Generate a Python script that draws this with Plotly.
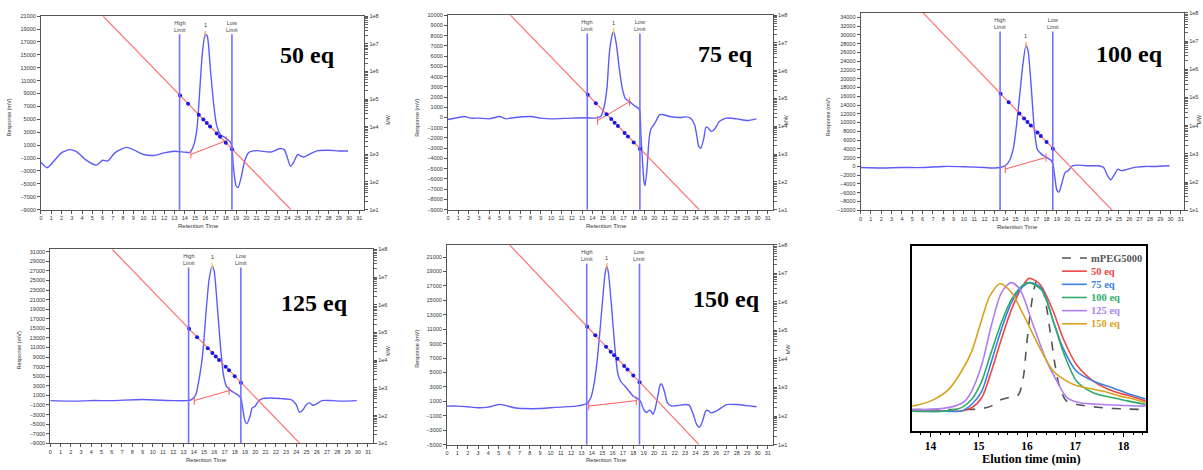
import plotly.graph_objects as go

W, H = 1203, 470

# ---------------- GPC chromatograms: retention time (min) / response (mV) ----------------
t_50 = [0, 0.6, 1, 2, 2.8, 3.5, 4.3, 5.4, 6.0, 6.5, 7.2, 8.3, 9, 10, 11, 12, 13, 14, 14.5, 14.9,
        15.2, 15.5, 15.7, 16.0, 16.2, 16.5, 16.8, 17.1, 17.5, 18.0, 18.5, 18.6, 18.75, 19.0, 19.2,
        19.5, 19.8, 20.2, 21, 22, 22.5, 23.2, 23.7, 24.0, 24.3, 24.6, 25.0, 25.3, 25.6, 26.2, 27,
        28, 29, 29.9]
r_50 = [-1700, -2500, -1950, -200, 300, -50, -1200, -2100, -1350, -1450, -200, 650, 300, -450,
        -600, -200, 50, -80, -120, 1100, 3650, 10300, 14900, 18200, 17900, 12800, 7700, 4150,
        2600, 2100, 1350, 600, -2500, -5300, -5550, -4000, -1700, -200, 150, -50, -50, 450, 300,
        -950, -2300, -1700, -450, -700, -850, -350, 150, 200, 100, 100]

t_75 = [0, 1.0, 1.6, 2.2, 3, 4, 5, 5.6, 6.5, 8, 9, 10, 12, 13.5, 14.3, 14.8, 15.1, 15.4, 15.65,
        15.9, 16.05, 16.3, 16.6, 16.9, 17.2, 17.6, 18.0, 18.5, 18.6, 18.7, 18.85, 19.0, 19.1,
        19.3, 19.5, 19.7, 20.0, 20.5, 20.8, 21.5, 22.5, 23.0, 23.5, 23.9, 24.1, 24.3, 24.5, 24.8,
        25.0, 25.2, 25.5, 25.8, 26.3, 27, 28, 29, 29.9]
r_75 = [-200, 0, 100, -60, -60, -130, 100, -130, 0, 100, -60, -130, -60, -30, -60, 100, 900, 2800,
        6400, 8000, 8400, 7300, 4800, 2800, 1850, 1550, 1200, 850, 600, -1700, -4250, -6300,
        -6650, -4900, -2000, -1050, -650, 250, 300, 100, 0, 60, -60, -700, -1700, -2800, -3000,
        -2000, -950, -1000, -1350, -1200, -400, -60, -130, -300, -130]

t_100 = [0, 2, 4, 6, 8, 10, 12, 13, 13.5, 14, 14.4, 14.8, 15.1, 15.4, 15.7, 16.0, 16.2, 16.5,
         16.8, 17.1, 17.5, 18.0, 18.4, 18.6, 18.8, 19.0, 19.2, 19.5, 19.8, 20.1, 20.5, 21, 22, 23,
         23.5, 23.9, 24.2, 24.6, 24.9, 25.2, 25.6, 26.5, 27.5, 28.5, 29.9]
r_100 = [-250, -350, -250, -250, 0, -60, -250, -350, -250, 150, 1300, 4300, 9600, 16300, 23100,
         27600, 26500, 18600, 8800, 3900, 2800, 2050, 1450, 550, -2450, -5450, -5850, -3600,
         -1350, -950, 150, 300, 150, 150, -200, -2100, -3050, -1700, -600, -950, -800, -200, 0,
         0, 150]

t_125 = [0, 2, 4, 6, 9, 12, 13.3, 13.8, 14.2, 14.6, 14.9, 15.2, 15.5, 15.8, 16.0, 16.3, 16.6,
         16.9, 17.2, 17.6, 18.0, 18.4, 18.6, 18.8, 19.0, 19.2, 19.5, 19.7, 20.0, 20.3, 20.7, 21.5,
         22.5, 23.5, 24.0, 24.3, 24.6, 25.0, 25.3, 25.6, 26.0, 26.5, 27.5, 28.5, 29.9]
r_125 = [-100, -200, -80, -80, 130, -80, -80, 130, 1150, 5300, 10100, 18300, 25200, 28000, 26900,
         19700, 11500, 5300, 2900, 2050, 1500, 950, 450, -1950, -4350, -4900, -3300, -1600,
         -1250, -200, 330, 470, 330, 130, -900, -2500, -2150, -900, -550, -1050, -750, -80, -80,
         -200, -80]

t_150 = [0, 1, 2, 3, 4, 5, 5.5, 6.5, 7.5, 9, 10, 11, 12.5, 13.3, 13.6, 13.9, 14.2, 14.5, 14.8,
         15.1, 15.3, 15.45, 15.6, 15.9, 16.2, 16.5, 16.8, 17.2, 17.6, 18.0, 18.4, 18.7, 19.0,
         19.3, 19.5, 19.7, 19.9, 20.1, 20.4, 20.6, 20.75, 21.0, 21.3, 21.7, 22.3, 23.0, 23.4,
         23.8, 24.1, 24.4, 24.7, 25.0, 25.2, 25.5, 26.0, 26.5, 27, 28, 29, 29.9]
r_150 = [340, 340, 250, 110, 200, 570, 480, 110, 0, 0, 110, 200, 340, 570, 800, 1500, 3300, 6500,
         11100, 16100, 19000, 19700, 18800, 14200, 8800, 4900, 3750, 3100, 2400, 1700, 1400,
         1000, -100, -550, -250, -350, -800, -100, 1950, 3300, 3400, 2400, 800, 350, 430, 570,
         480, -800, -2150, -2600, -1700, -350, -250, -600, -350, 100, 550, 550, 400, 250]

# integration baselines (start / end)
base_t = {"50": [14.6, 18.05], "75": [14.5, 17.6], "100": [14.0, 17.95],
          "125": [14.05, 17.45], "150": [13.7, 18.3]}
base_r = {"50": [-450, 1700], "75": [-300, 1550], "100": [-600, 2050],
          "125": [-80, 2000], "150": [340, 1100]}

# calibration curve (log MW vs retention time) and calibration standards
cal_t = [6.05, 24.35]
cal_mw = [1e8, 1e1]
std_t = [13.55, 14.33, 15.37, 15.82, 16.15, 16.47, 17.12, 17.44, 18.0, 18.61]
std_mw = [135000, 67600, 27000, 18100, 13500, 10200, 5730, 4320, 2630, 1530]

# integration limits
limit_t = [13.5, 18.6]
limit_txt = ["High<br>Limit", "Low<br>Limit"]

# ---------------- overlay: normalized RI traces vs elution time ----------------
ov_peg_t = [13.62, 14.0, 14.6, 15.0, 15.26, 15.47, 15.68, 15.82, 15.92, 15.99, 16.06, 16.13, 16.2,
            16.34, 16.48, 16.58, 16.68, 16.82, 17.03, 17.58, 18.0, 18.46]
ov_peg = [0.115, 0.115, 0.115, 0.118, 0.133, 0.169, 0.183, 0.195, 0.284, 0.462, 0.622, 0.746,
          0.808, 0.746, 0.533, 0.355, 0.231, 0.16, 0.142, 0.124, 0.118, 0.115]
ov_50_t = [13.62, 14.3, 14.64, 14.85, 15.06, 15.26, 15.47, 15.68, 15.89, 16.04, 16.27, 16.55,
           16.75, 17.03, 17.38, 17.79, 18.1, 18.46]
ov_50 = [0.107, 0.107, 0.107, 0.124, 0.178, 0.32, 0.497, 0.657, 0.773, 0.823, 0.79, 0.64, 0.497,
         0.355, 0.267, 0.213, 0.19, 0.16]
ov_75_t = [13.62, 14.3, 14.64, 14.85, 15.06, 15.26, 15.47, 15.68, 15.89, 16.06, 16.3, 16.55,
           16.75, 17.03, 17.38, 17.79, 18.1, 18.46]
ov_75 = [0.105, 0.105, 0.107, 0.142, 0.213, 0.373, 0.55, 0.693, 0.773, 0.80, 0.77, 0.586, 0.444,
         0.32, 0.267, 0.23, 0.2, 0.172]
ov_100_t = [13.62, 14.3, 14.64, 14.85, 15.06, 15.26, 15.47, 15.68, 15.89, 16.03, 16.3, 16.55,
            16.75, 17.03, 17.38, 17.79, 18.1, 18.46]
ov_100 = [0.105, 0.107, 0.125, 0.169, 0.267, 0.426, 0.586, 0.711, 0.781, 0.80, 0.76, 0.586,
          0.426, 0.267, 0.204, 0.178, 0.16, 0.142]
ov_125_t = [13.62, 14.16, 14.5, 14.71, 14.85, 15.06, 15.26, 15.47, 15.67, 15.85, 16.13, 16.41,
            16.62, 16.83, 17.1, 17.58, 18.46]
ov_125 = [0.115, 0.118, 0.133, 0.16, 0.213, 0.355, 0.568, 0.746, 0.80, 0.764, 0.568, 0.373,
          0.267, 0.178, 0.151, 0.142, 0.133]
ov_150_t = [13.62, 14.0, 14.37, 14.64, 14.85, 15.06, 15.23, 15.44, 15.68, 15.87, 16.05, 16.27,
            16.55, 16.96, 17.3, 17.58, 17.93, 18.2, 18.46]
ov_150 = [0.133, 0.16, 0.222, 0.32, 0.426, 0.60, 0.728, 0.794, 0.746, 0.655, 0.56, 0.444, 0.32,
          0.25, 0.228, 0.213, 0.187, 0.172, 0.151]

ov_names = ["mPEG5000", "50 eq", "75 eq", "100 eq", "125 eq", "150 eq"]
ov_colors = ["#555555", "#f04646", "#3c7fe0", "#2fac6c", "#b07ef0", "#d9a21c"]

# ---------------- figure ----------------
SANS = "Liberation Sans"
SERIF = "Liberation Serif"
TRACE_BLUE = "#5c5cf8"
CAL_RED = "#ff6e6e"
AX = "#555555"

fig = go.Figure()
layout = dict(width=W, height=H, margin=dict(l=0, r=0, t=0, b=0),
              paper_bgcolor="white", plot_bgcolor="white", showlegend=False)
annotations = []
shapes = []


def xdom(a, b):
    return [a / W, b / W]


def ydom(top, bottom):
    return [1 - bottom / H, 1 - top / H]


def paper_text(px, py, text, font, angle=0, xanchor="center"):
    return dict(x=px / W, y=1 - py / H, xref="paper", yref="paper", text=text,
                textangle=angle, showarrow=False, xanchor=xanchor, yanchor="middle",
                font=font)


# panel definitions: label, data, pixel box (left, right, top, bottom), y-range, tick step
panels = [
    ("50 eq", "50", t_50, r_50, (39, 363, 13.3, 209.3), 31.5, (-9000, 21000), -9000, 2000,
     (306, 53), (7, 116), (387, 118), (197, 226)),
    ("75 eq", "75", t_75, r_75, (446.7, 772.3, 12.3, 209.3), 31.5, (-9000, 10000), -9000, 1000,
     (725, 52), (415, 116), (786, 118), (606, 226)),
    ("100 eq", "100", t_100, r_100, (860, 1184, 10, 210), 31.3, (-10000, 35000), -10000, 2000,
     (1129, 52), (827, 116), (1199, 118), (1017, 227)),
    ("125 eq", "125", t_125, r_125, (48.3, 371.7, 249.5, 446), 31.5, (-9000, 31500), -9000, 2000,
     (313, 304), (17, 352), (386, 352), (205, 463)),
    ("150 eq", "150", t_150, r_150, (445.7, 772.3, 245, 447.3), 31.5, (-5000, 22700), -5000, 2000,
     (726, 300), (415, 350), (787, 350), (606, 463)),
]

decades = [10 ** k for k in range(1, 9)]
minor_vals = [m * 10 ** k for k in range(1, 8) for m in range(2, 10)]
tick_font = dict(family=SANS, size=5.5, color="#333333")
small_font = dict(family=SANS, size=5.5, color="#333333")

for i, (label, key, tt, rr, box, xmax, yr, y0tick, ystep, lab_xy, ytit_xy, mw_xy,
        xtit_xy) in enumerate(panels, start=1):
    sfx = "" if i == 1 else str(i)
    rid = i + 6
    xa, ya, yr_name = "x" + sfx, "y" + sfx, "y" + str(rid)
    left, right, top, bottom = box

    layout["xaxis" + sfx] = dict(
        domain=xdom(left, right), anchor=ya, range=[0, xmax], tick0=0, dtick=1,
        ticks="outside", ticklen=3, tickwidth=1, tickcolor=AX, tickfont=tick_font,
        showline=True, linecolor=AX, linewidth=1, mirror=True, showgrid=False,
        zeroline=False)
    layout["yaxis" + sfx] = dict(
        domain=ydom(top, bottom), anchor=xa, range=list(yr), tick0=y0tick, dtick=ystep,
        tickformat="d", ticks="outside", ticklen=3, tickwidth=1, tickcolor=AX,
        tickfont=tick_font, showline=True, linecolor=AX, linewidth=1, showgrid=False,
        zeroline=False)
    layout["yaxis" + str(rid)] = dict(
        overlaying=ya, anchor=xa, side="right", type="log", range=[1, 8],
        tickvals=decades, ticktext=["1e%d" % k for k in range(1, 9)],
        ticks="outside", ticklen=3, tickcolor=AX, tickfont=tick_font,
        minor=dict(tickvals=minor_vals, ticks="outside", ticklen=3, tickcolor="#666666"),
        showline=True, linecolor=AX, linewidth=1, showgrid=False, zeroline=False)

    # calibration line and standards on the MW axis
    fig.add_trace(go.Scatter(x=cal_t, y=cal_mw, xaxis=xa, yaxis=yr_name, mode="lines",
                             line=dict(color=CAL_RED, width=1.2), hoverinfo="skip"))
    # chromatogram
    fig.add_trace(go.Scatter(x=tt, y=rr, xaxis=xa, yaxis=ya, mode="lines",
                             line=dict(color=TRACE_BLUE, width=1.4, shape="spline",
                                       smoothing=0.6)))
    fig.add_trace(go.Scatter(x=std_t, y=std_mw, xaxis=xa, yaxis=yr_name, mode="markers",
                             marker=dict(color="#1818e8", size=4)))
    # integration baseline
    fig.add_trace(go.Scatter(x=base_t[key], y=base_r[key], xaxis=xa, yaxis=ya,
                             mode="lines+markers", line=dict(color="#ff5a5a", width=1),
                             marker=dict(symbol="line-ns-open", size=6,
                                         line=dict(color="#ff5a5a", width=1))))
    # peak apex
    k_pk = max(range(len(rr)), key=lambda j: rr[j])
    fig.add_trace(go.Scatter(x=[tt[k_pk]], y=[rr[k_pk]], xaxis=xa, yaxis=ya, mode="markers",
                             marker=dict(symbol="line-ns-open", size=5,
                                         line=dict(color="#ff5a5a", width=1.2))))
    annotations.append(dict(x=tt[k_pk], y=rr[k_pk], xref=xa, yref=ya, text="1",
                            showarrow=False, yshift=9, xanchor="center", yanchor="middle",
                            font=small_font))

    # integration limit markers
    for lt, ltxt in zip(limit_t, limit_txt):
        shapes.append(dict(type="line", xref=xa, yref=ya + " domain", x0=lt, x1=lt,
                           y0=0, y1=0.906, line=dict(color="#7272ff", width=1.6)))
        annotations.append(dict(x=lt, y=0.948, xref=xa, yref=ya + " domain", text=ltxt,
                                showarrow=False, xanchor="center", yanchor="middle",
                                font=dict(family=SANS, size=5.5, color="#444444")))

    # panel label and axis titles
    annotations.append(paper_text(lab_xy[0], lab_xy[1], "<b>%s</b>" % label,
                                  dict(family=SERIF, size=24, color="black")))
    annotations.append(paper_text(ytit_xy[0], ytit_xy[1], "Response (mV)", small_font, -90))
    annotations.append(paper_text(mw_xy[0], mw_xy[1], "MW", small_font, -90))
    annotations.append(paper_text(xtit_xy[0], xtit_xy[1], "Retention Time",
                                  dict(family=SANS, size=6, color="#333333")))

# ---------------- overlay panel ----------------
left6, right6, top6, bottom6 = 911.7, 1145.7, 245.7, 433.3
layout["xaxis6"] = dict(
    domain=xdom(left6, right6), anchor="y6", range=[13.62, 18.46], tick0=14, dtick=1,
    ticks="outside", ticklen=4, tickwidth=1.2, tickcolor="black",
    minor=dict(dtick=0.2, ticks="outside", ticklen=2, tickcolor="black"),
    tickfont=dict(family=SERIF, size=11.5, color="black", weight="bold"),
    showline=True, linecolor="black", linewidth=1.5, mirror=True, showgrid=False,
    zeroline=False)
layout["yaxis6"] = dict(
    domain=ydom(top6, bottom6), anchor="x6", range=[0, 1], showticklabels=False, ticks="",
    showline=True, linecolor="black", linewidth=1.5, mirror=True, showgrid=False,
    zeroline=False)

ov_data = [(ov_peg_t, ov_peg), (ov_50_t, ov_50), (ov_75_t, ov_75), (ov_100_t, ov_100),
           (ov_125_t, ov_125), (ov_150_t, ov_150)]
for (tt, vv), name, col in zip(ov_data, ov_names, ov_colors):
    fig.add_trace(go.Scatter(x=tt, y=vv, xaxis="x6", yaxis="y6", mode="lines", name=name,
                             line=dict(color=col, width=1.6, shape="spline", smoothing=0.8,
                                       dash="dash" if name == "mPEG5000" else "solid")))

# compact legend for the overlay panel
leg_y0, leg_dy = 258.3, 13.33
for k, (name, col) in enumerate(zip(ov_names, ov_colors)):
    py = leg_y0 + k * leg_dy
    shapes.append(dict(type="line", xref="paper", yref="paper", x0=1061.7 / W, x1=1086.7 / W,
                       y0=1 - py / H, y1=1 - py / H,
                       line=dict(color=col, width=1.6, dash="dash" if k == 0 else "solid")))
    annotations.append(paper_text(1089, py, "<b>%s</b>" % name,
                                  dict(family=SERIF, size=10.5, color=col), xanchor="left"))

annotations.append(paper_text(1031.7, 461.5, "<b>Elution time (min)</b>",
                              dict(family=SERIF, size=12.5, color="black")))

layout["annotations"] = annotations
layout["shapes"] = shapes
fig.update_layout(**layout)
fig.write_html("out.html")
